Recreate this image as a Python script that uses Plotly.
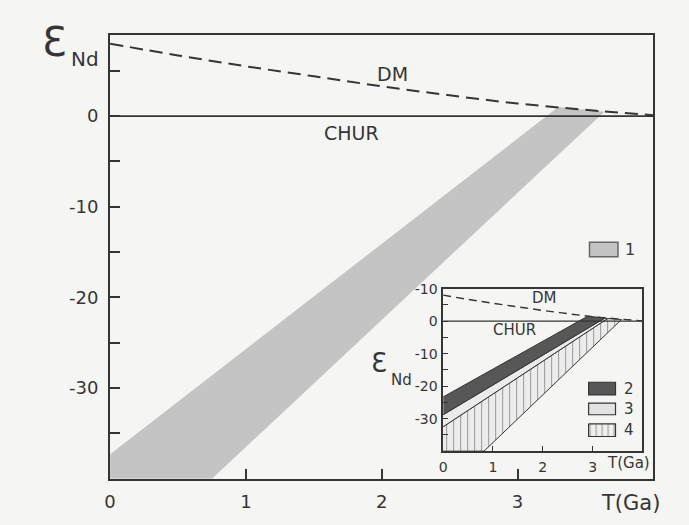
import plotly.graph_objects as go

# ---------------- data ----------------
dm_T = [0, 0.5, 1, 1.5, 2, 2.5, 3, 3.5, 4]
dm_eps = [8.0, 6.7, 5.5, 4.4, 3.3, 2.3, 1.4, 0.7, 0.1]
chur_T = [0, 4]
chur_eps = [0, 0]

# main band "1" (polygon vertices, T in Ga, eps_Nd)
band1_T = [0, 3.30, 3.64, 0.75, 0]
band1_eps = [-37.3, 1.0, 0.5, -40, -40]

# inset bands
band2_T = [0, 2.90, 3.25, 0]
band2_eps = [-23.3, 1.5, 1.0, -28.8]
band3_T = [0, 3.25, 3.30, 0]
band3_eps = [-28.8, 1.0, 0.8, -32.5]
band4_T = [0, 3.30, 3.58, 0.82, 0]
band4_eps = [-32.5, 0.8, 0.5, -40, -40]

main_xticks = [0, 1, 2, 3]
main_yticks = [-35, -30, -25, -20, -15, -10, -5, 0, 5]
main_ylabels = ["", "-30", "", "-20", "", "-10", "", "0", ""]
inset_yticks = [-35, -30, -25, -20, -15, -10, -5, 0, 5, 10]
inset_ylabels = ["", "-30", "", "-20", "", "-10", "", "0", "", "-10"]

# ---------------- styling ----------------
W, H = 689, 525
INK = "#353535"
BG = "#f5f5f3"
FONT = "DejaVu Sans"


def px(x):
    return x / W


def py(y):
    return 1 - y / H


fig = go.Figure()

# main plot
fig.add_trace(go.Scatter(x=band1_T, y=band1_eps, fill="toself", mode="lines",
                         line=dict(width=0), fillcolor="#c4c4c4",
                         xaxis="x", yaxis="y", hoverinfo="skip"))
fig.add_trace(go.Scatter(x=chur_T, y=chur_eps, mode="lines",
                         line=dict(color=INK, width=1.6), xaxis="x", yaxis="y"))
fig.add_trace(go.Scatter(x=dm_T, y=dm_eps, mode="lines", line_shape="spline",
                         line=dict(color=INK, width=2, dash="13px,7px"),
                         xaxis="x", yaxis="y"))

# inset
fig.add_trace(go.Scatter(x=band4_T, y=band4_eps, fill="toself", mode="lines",
                         line=dict(color=INK, width=1),
                         fillcolor="#ececec",
                         fillpattern=dict(shape="|", fgcolor="#444", bgcolor="#ececec",
                                          size=7, solidity=0.15),
                         xaxis="x2", yaxis="y2", hoverinfo="skip"))
fig.add_trace(go.Scatter(x=band3_T, y=band3_eps, fill="toself", mode="lines",
                         line=dict(color=INK, width=1), fillcolor="#ebebeb",
                         xaxis="x2", yaxis="y2", hoverinfo="skip"))
fig.add_trace(go.Scatter(x=band2_T, y=band2_eps, fill="toself", mode="lines",
                         line=dict(color=INK, width=1), fillcolor="#575757",
                         xaxis="x2", yaxis="y2", hoverinfo="skip"))
fig.add_trace(go.Scatter(x=chur_T, y=chur_eps, mode="lines",
                         line=dict(color=INK, width=1.3), xaxis="x2", yaxis="y2"))
fig.add_trace(go.Scatter(x=dm_T, y=dm_eps, mode="lines", line_shape="spline",
                         line=dict(color=INK, width=1.4, dash="8px,5px"),
                         xaxis="x2", yaxis="y2"))

# inset legend key "4" (hatched box) in inset coordinates
fig.add_trace(go.Scatter(x=[2.92, 3.46, 3.46, 2.92, 2.92],
                         y=[-31.6, -31.6, -35.5, -35.5, -31.6],
                         fill="toself", mode="lines", line=dict(color=INK, width=1.2),
                         fillcolor="#f0f0f0",
                         fillpattern=dict(shape="|", fgcolor="#444", bgcolor="#f0f0f0",
                                          size=6, solidity=0.18),
                         xaxis="x2", yaxis="y2", hoverinfo="skip"))

axis_common = dict(showgrid=False, zeroline=False, showline=True, mirror=True,
                   ticks="inside", color=INK)

fig.update_layout(
    width=W, height=H, autosize=False,
    margin=dict(l=0, r=0, t=0, b=0),
    paper_bgcolor=BG, plot_bgcolor=BG,
    showlegend=False,
    font=dict(family=FONT, color=INK),
    xaxis=dict(domain=[px(105), px(653)], range=[0, 4], anchor="y",
               tickvals=main_xticks, ticktext=[str(v) for v in main_xticks],
               ticklen=10, tickwidth=1.5, linewidth=2, linecolor=INK,
               tickfont=dict(size=18, family=FONT, color=INK),
               ticklabelstandoff=6, **axis_common),
    yaxis=dict(domain=[py(478), py(27)], range=[-40, 9], anchor="x",
               tickvals=main_yticks, ticktext=main_ylabels,
               ticklen=10, tickwidth=1.5, linewidth=2, linecolor=INK,
               tickfont=dict(size=18, family=FONT, color=INK),
               ticklabelstandoff=6, **axis_common),
    xaxis2=dict(domain=[px(441), px(642)], range=[0, 4], anchor="y2",
                tickvals=main_xticks, ticktext=[str(v) for v in main_xticks],
                ticklen=5, tickwidth=1, linewidth=1.5, linecolor=INK,
                tickfont=dict(size=14, family=FONT, color=INK),
                ticklabelstandoff=2, **axis_common),
    yaxis2=dict(domain=[py(450), py(285)], range=[-40, 10], anchor="x2",
                tickvals=inset_yticks, ticktext=inset_ylabels,
                ticklen=5, tickwidth=1, linewidth=1.5, linecolor=INK,
                tickfont=dict(size=14, family=FONT, color=INK),
                ticklabelstandoff=1, **axis_common),
)

shapes = [
    # legend key 1 (main)
    dict(type="rect", xref="x", yref="y", x0=3.53, x1=3.74, y0=-13.9, y1=-15.5,
         fillcolor="#c4c4c4", line=dict(color="#666", width=1.5)),
    # inset legend keys 2 and 3
    dict(type="rect", xref="x2", yref="y2", x0=2.92, x1=3.46, y0=-18.8, y1=-22.7,
         fillcolor="#575757", line=dict(color=INK, width=1.2)),
    dict(type="rect", xref="x2", yref="y2", x0=2.92, x1=3.46, y0=-25.2, y1=-28.8,
         fillcolor="#e2e2e2", line=dict(color=INK, width=1.2)),
]
fig.update_layout(shapes=shapes)

ann = []


def add_text(text, x, y, size, xref="paper", yref="paper", xanchor="center"):
    ann.append(dict(text=text, x=x, y=y, xref=xref, yref=yref, showarrow=False,
                    xanchor=xanchor, yanchor="middle",
                    font=dict(size=size, family=FONT, color=INK)))


# main labels
add_text("Ɛ", px(49), py(35), 40)
add_text("Nd", px(80), py(52), 20)
add_text("DM", 2.08, 4.6, 19, "x", "y")
add_text("CHUR", 1.78, -1.9, 19, "x", "y")
add_text("1", 3.83, -14.7, 16, "x", "y")
add_text("T(Ga)", px(630), py(503), 21)

# inset labels
add_text("DM", 2.04, 7.2, 15, "x2", "y2")
add_text("CHUR", 1.44, -2.8, 15, "x2", "y2")
add_text("2", 3.74, -20.8, 15, "x2", "y2")
add_text("3", 3.74, -27.0, 15, "x2", "y2")
add_text("4", 3.74, -33.6, 15, "x2", "y2")
add_text("Ɛ", px(376), py(361), 26)
add_text("Nd", px(399), py(378), 15)
add_text("T(Ga)", px(628), py(462), 15)

fig.update_layout(annotations=ann)

fig.write_html("out.html")
